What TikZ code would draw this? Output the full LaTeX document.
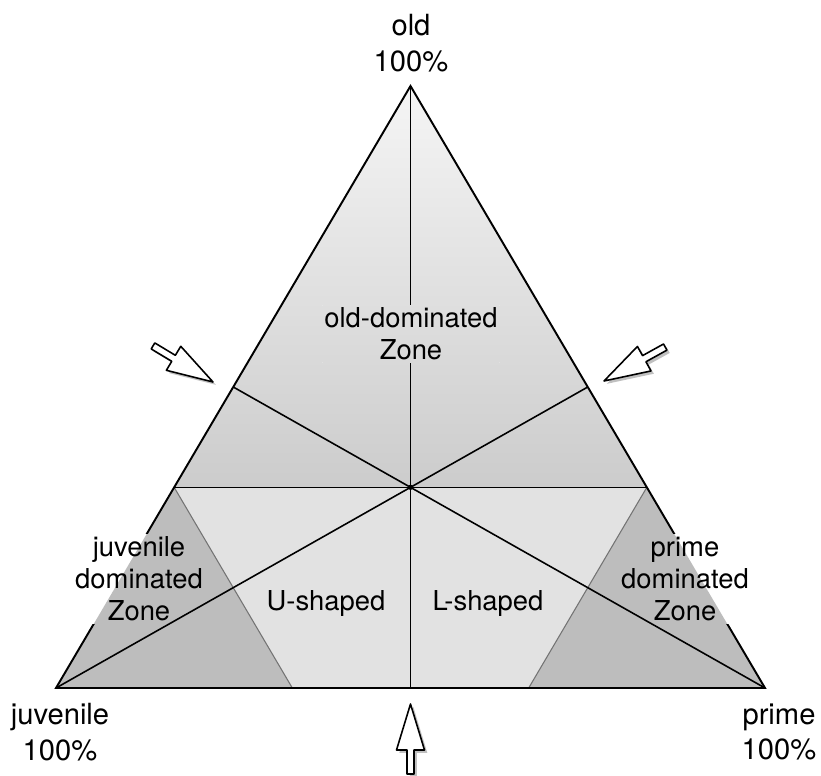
\documentclass[tikz,border=0pt]{standalone}
\usepackage{fontspec}
\setmainfont{TeX Gyre Heros}
\usetikzlibrary{calc}

\pgfdeclarelayer{zones}
\pgfdeclarelayer{gaps}
\pgfsetlayers{zones,gaps,main}

\definecolor{zonetop}{gray}{0.96}
\definecolor{zonemid}{gray}{0.80}
\definecolor{zonelow}{gray}{0.885}
\definecolor{zonedom}{gray}{0.74}

\tikzset{
  lbl/.style={font=\fontsize{16.6}{20.3}\selectfont, align=center, inner sep=1pt},
  zonelbl/.style={font=\fontsize{15.6}{18.3}\selectfont, align=center, inner sep=1pt},
  edge/.style={line width=1.1pt},
  split/.style={line width=0.9pt},
  rim/.style={draw=black!55, line width=0.6pt},
  pointer/.style={draw, fill=white, line width=0.9pt, line join=round},
  pointershadow/.style={fill=black!35, opacity=0.7}
}

% the filled zones of the triangle
\newcommand\paintzones{%
  \fill[white] (0,0) rectangle (821,776);
  \shade[top color=zonetop, bottom color=zonemid] (hJ) -- (O) -- (hP) -- cycle;
  \fill[zonelow] (hJ) -- (hP) -- (bP) -- (bJ) -- cycle;
  \fill[zonedom] (J) -- (hJ) -- (bJ) -- cycle;
  \fill[zonedom] (P) -- (hP) -- (bP) -- cycle;
}

% the slanted lines inside
\newcommand\slantlines{%
  \draw[rim] (hJ) -- (bJ);
  \draw[rim] (hP) -- (bP);
  \draw[split] (J) -- (mPO);
  \draw[split] (P) -- (mJO);
}

% open arrow with its tip at #1, turned by #2
\newcommand\markarrow[2]{%
  \fill[pointershadow, shift={(#1)}, xshift=1.6pt, yshift=-1.6pt, rotate=#2]
    (0,0) -- (-46,-14) -- (-46,-3.5) -- (-70,-3.5) -- (-70,3.5) -- (-46,3.5) -- (-46,14) -- cycle;
  \draw[pointer, shift={(#1)}, rotate=#2]
    (0,0) -- (-46,-14) -- (-46,-3.5) -- (-70,-3.5) -- (-70,3.5) -- (-46,3.5) -- (-46,14) -- cycle;
}

\begin{document}
\begin{tikzpicture}[x=0.02cm, y=-0.02cm]
\useasboundingbox (0,0) rectangle (821,776);

% corners
\coordinate (J) at (56,688);
\coordinate (P) at (765,688);
\coordinate (O) at (410.5,86);
\coordinate (C) at (barycentric cs:J=1,P=1,O=1);

% points on the sides
\coordinate (mJO) at ($(J)!0.5!(O)$);
\coordinate (mPO) at ($(P)!0.5!(O)$);
\coordinate (mJP) at ($(J)!0.5!(P)$);
\coordinate (hJ) at ($(J)!1/3!(O)$);
\coordinate (hP) at ($(P)!1/3!(O)$);
\coordinate (bJ) at ($(J)!1/3!(P)$);
\coordinate (bP) at ($(P)!1/3!(J)$);

% labels
\node[lbl] (old)   at (411,43)  {old\\100\%};
\node[lbl] (juv)   at (60,732)  {juvenile\\100\%};
\node[lbl] (prime) at (779,732) {prime\\100\%};

\node[zonelbl] (oldzone)   at (411,334) {old-dominated\\Zone};
\node[zonelbl] (juvzone)   at (139,579) {juvenile\\dominated\\Zone};
\node[zonelbl] (primezone) at (685,579) {prime\\dominated\\Zone};
\node[zonelbl] (ushape)    at (326,603) {U-shaped};
\node[zonelbl] (lshape)    at (488,603) {L-shaped};

\begin{pgfonlayer}{zones}
  \paintzones
  \slantlines
  \draw[split] (hJ) -- (hP);
  \draw[split] (O) -- (mJP);
  \draw[edge] (J) -- (P) -- (O) -- cycle;
  \fill (C) circle[radius=1.5pt];
\end{pgfonlayer}

% lines stop behind the zone names
\begin{pgfonlayer}{gaps}
  \begin{scope}
    \clip (oldzone.south west) rectangle (oldzone.north east);
    \paintzones
  \end{scope}
  \foreach \lab in {juvzone,primezone} {
    \begin{scope}
      \clip (\lab.south west) rectangle (\lab.north east);
      \paintzones
      \slantlines
    \end{scope}
  }
\end{pgfonlayer}

% pointers
\coordinate (tipJO) at (213,382);
\coordinate (tipPO) at (604,381);
\coordinate (tipJP) at (410.5,704);
\markarrow{tipJO}{-31}
\markarrow{tipPO}{-151}
\markarrow{tipJP}{90}

\end{tikzpicture}
\end{document}
